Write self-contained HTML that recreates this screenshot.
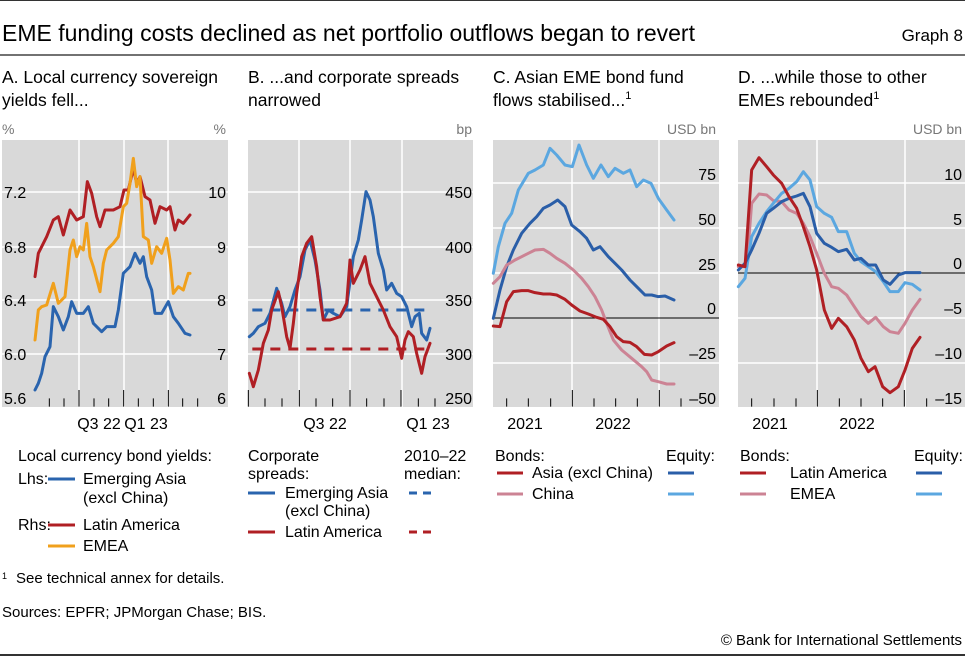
<!DOCTYPE html>
<html><head><meta charset="utf-8"><style>
html,body{margin:0;padding:0;background:#fff}
svg{display:block}
text{font-family:"Liberation Sans",sans-serif;fill:#000}
.t{font-size:16px}
.p{font-size:17.5px}
.l{font-size:16px}
.u{font-size:14px;fill:#777}
.ln{fill:none;stroke-width:9;stroke-linejoin:round;stroke-linecap:round}
</style></head><body>
<svg width="965" height="657" viewBox="0 0 965 657" xmlns="http://www.w3.org/2000/svg">
<line x1="0" y1="0.5" x2="965" y2="0.5" stroke="#333" stroke-width="1"/>
<text x="2" y="41" style="font-size:23px">EME funding costs declined as net portfolio outflows began to revert</text>
<text x="963" y="41" text-anchor="end" style="font-size:17px">Graph 8</text>
<line x1="0" y1="55" x2="965" y2="55" stroke="#444" stroke-width="1.5"/>
<line x1="0" y1="655" x2="965" y2="655" stroke="#333" stroke-width="2"/>

<g class="p">
<text x="2" y="83">A. Local currency sovereign</text><text x="2" y="106">yields fell...</text>
<text x="248" y="83">B. ...and corporate spreads</text><text x="248" y="106">narrowed</text>
<text x="493" y="83">C. Asian EME bond fund</text><text x="493" y="106">flows stabilised...<tspan dy="-7" style="font-size:11px">1</tspan></text>
<text x="738" y="83">D. ...while those to other</text><text x="738" y="106">EMEs rebounded<tspan dy="-7" style="font-size:11px">1</tspan></text>
</g>
<text class="u" x="2" y="134">%</text><text class="u" x="226" y="134" text-anchor="end">%</text>
<text class="u" x="472" y="134" text-anchor="end">bp</text>
<text class="u" x="716" y="134" text-anchor="end">USD bn</text>
<text class="u" x="962" y="134" text-anchor="end">USD bn</text>

<rect x="2" y="140" width="226" height="267" fill="#d9d9d9"/>
<rect x="248" y="140" width="225" height="267" fill="#d9d9d9"/>
<rect x="493" y="140" width="226" height="267" fill="#d9d9d9"/>
<rect x="738" y="140" width="227" height="267" fill="#d9d9d9"/>
<g stroke="#fff" stroke-width="1.5">
<line x1="2" y1="192" x2="228" y2="192"/><line x1="2" y1="247" x2="228" y2="247"/><line x1="2" y1="300" x2="228" y2="300"/><line x1="2" y1="354" x2="228" y2="354"/>
<line x1="79" y1="140" x2="79" y2="407"/><line x1="124" y1="140" x2="124" y2="407"/><line x1="168" y1="140" x2="168" y2="407"/>
<line x1="248" y1="192" x2="473" y2="192"/><line x1="248" y1="247" x2="473" y2="247"/><line x1="248" y1="300" x2="473" y2="300"/><line x1="248" y1="354" x2="473" y2="354"/>
<line x1="299" y1="140" x2="299" y2="407"/><line x1="350" y1="140" x2="350" y2="407"/><line x1="402" y1="140" x2="402" y2="407"/>
<line x1="493" y1="183" x2="719" y2="183"/><line x1="493" y1="228" x2="719" y2="228"/><line x1="493" y1="273" x2="719" y2="273"/><line x1="493" y1="363" x2="719" y2="363"/>
<line x1="572" y1="140" x2="572" y2="407"/><line x1="659" y1="140" x2="659" y2="407"/>
<line x1="738" y1="183" x2="965" y2="183"/><line x1="738" y1="228" x2="965" y2="228"/><line x1="738" y1="318" x2="965" y2="318"/><line x1="738" y1="363" x2="965" y2="363"/>
<line x1="817" y1="140" x2="817" y2="407"/><line x1="905" y1="140" x2="905" y2="407"/>
</g>
<line x1="493" y1="318" x2="719" y2="318" stroke="#000" stroke-width="1"/>
<line x1="738" y1="273" x2="965" y2="273" stroke="#000" stroke-width="1"/>

<g class="t">
<text x="4" y="198">7.2</text><text x="4" y="253">6.8</text><text x="4" y="306">6.4</text><text x="4" y="360">6.0</text><text x="4" y="404">5.6</text>
<text x="226" y="198" text-anchor="end">10</text><text x="226" y="253" text-anchor="end">9</text><text x="226" y="306" text-anchor="end">8</text><text x="226" y="360" text-anchor="end">7</text><text x="226" y="404" text-anchor="end">6</text>
<text x="472" y="198" text-anchor="end">450</text><text x="472" y="253" text-anchor="end">400</text><text x="472" y="306" text-anchor="end">350</text><text x="472" y="360" text-anchor="end">300</text><text x="472" y="404" text-anchor="end">250</text>
<text x="716" y="180" text-anchor="end">75</text><text x="716" y="225" text-anchor="end">50</text><text x="716" y="270" text-anchor="end">25</text><text x="716" y="314" text-anchor="end">0</text><text x="716" y="359" text-anchor="end">–25</text><text x="716" y="404" text-anchor="end">–50</text>
<text x="962" y="180" text-anchor="end">10</text><text x="962" y="225" text-anchor="end">5</text><text x="962" y="269" text-anchor="end">0</text><text x="962" y="314" text-anchor="end">–5</text><text x="962" y="359" text-anchor="end">–10</text><text x="962" y="404" text-anchor="end">–15</text>
<text x="99" y="429" text-anchor="middle">Q3 22</text><text x="146" y="429" text-anchor="middle">Q1 23</text>
<text x="325" y="429" text-anchor="middle">Q3 22</text><text x="428" y="429" text-anchor="middle">Q1 23</text>
<text x="525" y="429" text-anchor="middle">2021</text><text x="613" y="429" text-anchor="middle">2022</text>
<text x="770" y="429" text-anchor="middle">2021</text><text x="857" y="429" text-anchor="middle">2022</text>
</g>

<g transform="translate(0,110) scale(0.33333)">
<g stroke="#000" stroke-width="3">
<path d="M148 865V890M192 865V890M282 865V890M326 865V890M415 865V890M460 865V890M548 865V890M593 865V890M237 840V890M371 840V890M505 840V890"/>
<path d="M795 865V890M846 865V890M948 865V890M998 865V890M1100 865V890M1152 865V890M1255 865V890M1305 865V890M745 840V890M898 840V890M1050 840V890M1203 840V890"/>
</g>
<polyline class="ln" stroke="#b01f24" points="105,500 115,430 140,380 160,330 175,320 190,375 210,300 230,330 250,320 262,215 275,250 290,320 300,350 315,300 340,300 360,290 372,240 385,240 400,175 410,220 420,200 435,260 450,270 465,340 480,290 500,300 510,290 525,360 535,330 550,340 570,315"/>
<polyline class="ln" stroke="#f0a01c" points="105,690 115,600 125,590 140,585 160,520 175,580 195,560 210,420 220,390 230,440 240,410 250,420 260,340 270,440 280,470 300,545 310,460 320,420 340,400 355,380 370,290 380,280 390,220 400,145 410,230 420,200 430,380 445,390 455,460 470,410 485,430 500,385 510,450 520,550 535,530 550,540 565,490 570,490"/>
<polyline class="ln" stroke="#2a64ae" points="105,840 115,820 125,790 135,740 150,710 160,590 175,620 190,660 205,620 215,575 230,610 250,610 265,590 280,640 305,665 320,650 345,650 355,600 370,490 390,470 405,430 420,460 430,440 440,500 455,540 465,610 485,610 505,575 520,620 535,640 555,670 570,675"/>
<line x1="757" y1="600" x2="1290" y2="600" stroke="#2a64ae" stroke-width="9" stroke-dasharray="30,24"/>
<line x1="757" y1="717" x2="1290" y2="717" stroke="#b01f24" stroke-width="9" stroke-dasharray="30,24"/>
<polyline class="ln" stroke="#2a64ae" points="748,680 760,670 775,650 795,640 810,610 830,535 845,580 855,620 870,590 885,540 900,500 915,420 930,390 945,450 960,540 970,630 985,600 1000,610 1020,620 1040,590 1060,440 1075,390 1085,330 1098,245 1110,270 1120,320 1135,430 1150,480 1160,540 1175,520 1190,550 1205,560 1220,590 1235,650 1245,620 1258,610 1265,670 1280,690 1290,655"/>
<polyline class="ln" stroke="#b01f24" points="748,790 760,830 775,780 790,700 805,660 815,600 835,545 845,590 860,680 870,715 880,640 890,550 905,440 920,400 935,380 950,470 960,560 970,630 990,630 1020,620 1040,580 1050,450 1060,520 1080,480 1095,440 1110,520 1130,560 1150,600 1170,650 1190,680 1205,745 1215,690 1225,665 1240,680 1250,730 1265,790 1275,740 1290,700"/>
</g>

<g transform="translate(485,110) scale(0.33333)">
<g stroke="#000" stroke-width="3">
<path d="M65 865V890M130 865V890M197 865V890M327 865V890M392 865V890M457 865V890M588 865V890M262 840V890M523 840V890"/>
<path d="M800 865V890M867 865V890M933 865V890M1063 865V890M1128 865V890M1193 865V890M1325 865V890M997 840V890M1258 840V890"/>
</g>
<polyline class="ln" stroke="#5ba7e0" points="25,490 40,410 60,340 80,310 100,240 130,190 150,180 175,165 195,115 215,135 240,165 262,170 282,105 305,165 325,205 348,165 370,200 390,175 415,190 435,180 455,230 475,210 498,220 520,265 545,300 567,330"/>
<polyline class="ln" stroke="#2a5ea8" points="25,625 45,540 65,470 85,420 110,370 135,340 155,320 175,295 195,285 218,270 240,290 260,345 285,365 305,385 325,420 345,410 370,440 390,460 410,480 435,510 460,535 480,555 500,555 520,560 540,558 567,570"/>
<polyline class="ln" stroke="#cc8394" points="25,520 45,500 65,465 90,450 110,440 130,430 150,420 175,418 195,430 215,445 240,460 265,480 290,505 310,530 330,560 350,600 365,640 385,690 410,720 440,745 470,770 485,785 500,810 520,815 545,822 567,822"/>
<polyline class="ln" stroke="#b01f24" points="25,648 45,650 65,575 85,545 110,542 130,542 150,548 175,552 195,552 215,555 240,568 260,585 285,603 310,612 335,622 355,628 375,650 395,680 415,695 435,697 455,710 478,733 500,735 520,725 545,708 567,698"/>
<polyline class="ln" stroke="#cc8394" points="760,470 785,470 800,280 822,252 845,255 865,272 890,275 912,300 935,310 955,340 975,380 995,430 1018,490 1040,530 1060,535 1085,555 1108,590 1128,620 1150,640 1172,622 1195,650 1215,665 1240,670 1260,640 1282,600 1305,568"/>
<polyline class="ln" stroke="#5ba7e0" points="760,530 780,505 800,380 822,340 845,305 865,280 890,250 912,235 935,215 955,185 975,210 995,290 1018,310 1040,322 1060,365 1085,365 1108,430 1128,455 1150,470 1172,485 1195,515 1215,545 1240,545 1260,518 1282,523 1305,540"/>
<polyline class="ln" stroke="#2a5ea8" points="760,480 780,460 800,420 822,370 845,310 865,295 890,275 912,265 935,258 955,250 975,290 995,370 1018,400 1040,412 1060,425 1085,418 1108,450 1128,445 1150,465 1172,465 1195,510 1215,523 1240,495 1260,488 1282,488 1305,488"/>
<polyline class="ln" stroke="#b01f24" points="760,465 780,470 800,180 822,143 845,170 865,195 890,220 912,260 935,295 955,350 975,410 995,480 1018,600 1040,655 1060,625 1085,650 1108,690 1128,745 1150,785 1170,770 1193,830 1215,848 1240,830 1260,780 1282,715 1305,682"/>
</g>

<g class="l">
<text x="18" y="461">Local currency bond yields:</text>
<text x="18" y="484">Lhs:</text><text x="83" y="484">Emerging Asia</text><text x="83" y="503">(excl China)</text>
<text x="18" y="530">Rhs:</text><text x="83" y="530">Latin America</text><text x="83" y="551">EMEA</text>
<text x="248" y="461">Corporate</text><text x="248" y="479">spreads:</text>
<text x="285" y="498">Emerging Asia</text><text x="285" y="516">(excl China)</text><text x="285" y="537">Latin America</text>
<text x="404" y="461">2010–22</text><text x="404" y="479">median:</text>
<text x="495" y="461">Bonds:</text><text x="666" y="461">Equity:</text>
<text x="532" y="478">Asia (excl China)</text><text x="532" y="499">China</text>
<text x="740" y="461">Bonds:</text><text x="914" y="461">Equity:</text>
<text x="790" y="478">Latin America</text><text x="790" y="499">EMEA</text>
</g>
<g stroke-width="3">
<line x1="48" y1="479" x2="75" y2="479" stroke="#2a64ae"/>
<line x1="48" y1="525" x2="75" y2="525" stroke="#b01f24"/>
<line x1="48" y1="546" x2="75" y2="546" stroke="#f0a01c"/>
<line x1="248" y1="493" x2="275" y2="493" stroke="#2a64ae"/>
<line x1="248" y1="532" x2="275" y2="532" stroke="#b01f24"/>
<line x1="409" y1="493" x2="435" y2="493" stroke="#2a64ae" stroke-dasharray="8,6"/>
<line x1="409" y1="532" x2="435" y2="532" stroke="#b01f24" stroke-dasharray="8,6"/>
<line x1="497" y1="473" x2="523" y2="473" stroke="#b01f24"/>
<line x1="497" y1="494" x2="523" y2="494" stroke="#cc8394"/>
<line x1="668" y1="473" x2="694" y2="473" stroke="#2a5ea8"/>
<line x1="668" y1="494" x2="694" y2="494" stroke="#5ba7e0"/>
<line x1="740" y1="473" x2="766" y2="473" stroke="#b01f24"/>
<line x1="740" y1="494" x2="766" y2="494" stroke="#cc8394"/>
<line x1="916" y1="473" x2="942" y2="473" stroke="#2a5ea8"/>
<line x1="916" y1="494" x2="942" y2="494" stroke="#5ba7e0"/>
</g>
<text x="2" y="579" style="font-size:9px">1</text><text x="16" y="583" style="font-size:15px">See technical annex for details.</text>
<text x="2" y="617" style="font-size:15px">Sources: EPFR; JPMorgan Chase; BIS.</text>
<text x="962" y="645" text-anchor="end" style="font-size:15px">© Bank for International Settlements</text>
</svg>
</body></html>
